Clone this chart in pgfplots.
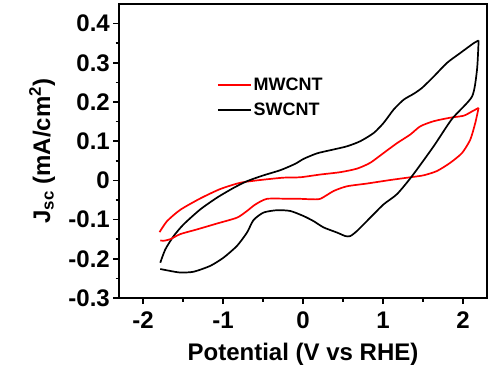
\documentclass[border=0pt]{standalone}
\usepackage{fontspec}
\setmainfont{Liberation Sans}
\usepackage{pgfplots}
\pgfplotsset{compat=1.18}

% Cyclic voltammograms: anodic (upper) and cathodic (lower) sweeps
\pgfplotstableread{
x y
-1.793 -0.132
-1.700 -0.104
-1.534 -0.075
-1.284 -0.046
-1.034 -0.022
-0.784 -0.006
-0.534 0.001
-0.243 0.007
-0.034 0.008
0.216 0.015
0.466 0.021
0.675 0.030
0.841 0.045
1.008 0.070
1.175 0.095
1.341 0.117
1.466 0.138
1.633 0.151
1.841 0.160
2.008 0.165
2.113 0.176
2.195 0.185
}\mwup
\pgfplotstableread{
x y
2.195 0.185
2.154 0.147
2.091 0.104
1.988 0.070
1.841 0.045
1.675 0.024
1.508 0.013
1.341 0.008
1.091 0.001
0.800 -0.008
0.550 -0.015
0.383 -0.027
0.216 -0.047
0.091 -0.048
-0.034 -0.047
-0.159 -0.047
-0.450 -0.047
-0.600 -0.062
-0.700 -0.078
-0.825 -0.095
-1.075 -0.110
-1.325 -0.125
-1.534 -0.137
-1.659 -0.150
-1.743 -0.154
-1.784 -0.153
}\mwdown
\pgfplotstableread{
x y
-1.784 -0.210
-1.721 -0.176
-1.617 -0.142
-1.492 -0.112
-1.284 -0.074
-1.075 -0.044
-0.867 -0.019
-0.700 -0.002
-0.493 0.013
-0.284 0.026
-0.100 0.042
0.008 0.055
0.175 0.069
0.341 0.077
0.550 0.087
0.716 0.100
0.884 0.121
1.009 0.147
1.134 0.181
1.259 0.206
1.384 0.221
1.488 0.236
1.634 0.265
1.801 0.300
1.966 0.325
2.133 0.350
2.195 0.357
}\swup
\pgfplotstableread{
x y
2.195 0.357
2.175 0.282
2.113 0.214
1.863 0.157
1.633 0.087
1.363 0.011
1.175 -0.035
1.008 -0.061
0.841 -0.095
0.675 -0.129
0.591 -0.142
0.529 -0.142
0.425 -0.133
0.258 -0.120
0.133 -0.104
0.008 -0.091
-0.159 -0.078
-0.325 -0.076
-0.493 -0.082
-0.618 -0.101
-0.700 -0.133
-0.825 -0.167
-0.993 -0.197
-1.159 -0.218
-1.368 -0.233
-1.534 -0.235
-1.659 -0.231
-1.784 -0.226
}\swdown

\begin{document}
\begin{tikzpicture}
\path[use as bounding box] (0,0) rectangle (495pt,368pt);
\begin{axis}[
  at={(119pt,70pt)}, anchor=south west,
  scale only axis, width=368pt, height=294pt,
  xmin=-2.3, xmax=2.3, ymin=-0.3, ymax=0.45,
  xtick={-2,-1,0,1,2}, xticklabels={-2,-1,0,1,2},
  ytick={-0.3,-0.2,-0.1,0,0.1,0.2,0.3,0.4},
  yticklabels={-0.3,-0.2,-0.1,0,0.1,0.2,0.3,0.4},
  minor x tick num=1, minor y tick num=1,
  tick pos=left, tick align=outside,
  major tick length=6pt, minor tick length=3.5pt,
  every tick/.style={black, line width=1.5pt},
  axis line style={line width=2pt},
  /pgf/number format/assume math mode=true,
  tick label style={font=\fontsize{24}{28}\selectfont\bfseries, inner sep=0pt},
  xticklabel style={anchor=base, yshift=-24pt},
  yticklabel style={anchor=east, xshift=-3pt},
  label style={font=\fontsize{24}{28}\selectfont\bfseries},
  xlabel={Potential (V vs RHE)},
  ylabel={J\textsubscript{sc} (mA/cm\textsuperscript{2})},
  xlabel style={at={(axis description cs:0.5,-0.2133)}, anchor=base, inner sep=0pt},
  ylabel style={at={(axis description cs:-0.1875,0.5)}, anchor=base, rotate=0, inner sep=0pt},
  every axis plot/.append style={line width=1.7pt, smooth, tension=0.4},
  legend cell align=left,
  legend style={draw=none, fill=none, at={(axis description cs:0.2655,0.756)}, anchor=north west,
    inner sep=0pt, font=\fontsize{18}{20}\selectfont\bfseries, row sep=7pt},
  legend image post style={xscale=1.94, line width=1.7pt},
]
\addplot[red] table {\mwup};
\addlegendentry{MWCNT}
\addplot[black] table {\swup};
\addlegendentry{SWCNT}
\addplot[red, forget plot] table {\mwdown};
\addplot[black, forget plot] table {\swdown};
\end{axis}
\end{tikzpicture}
\end{document}
